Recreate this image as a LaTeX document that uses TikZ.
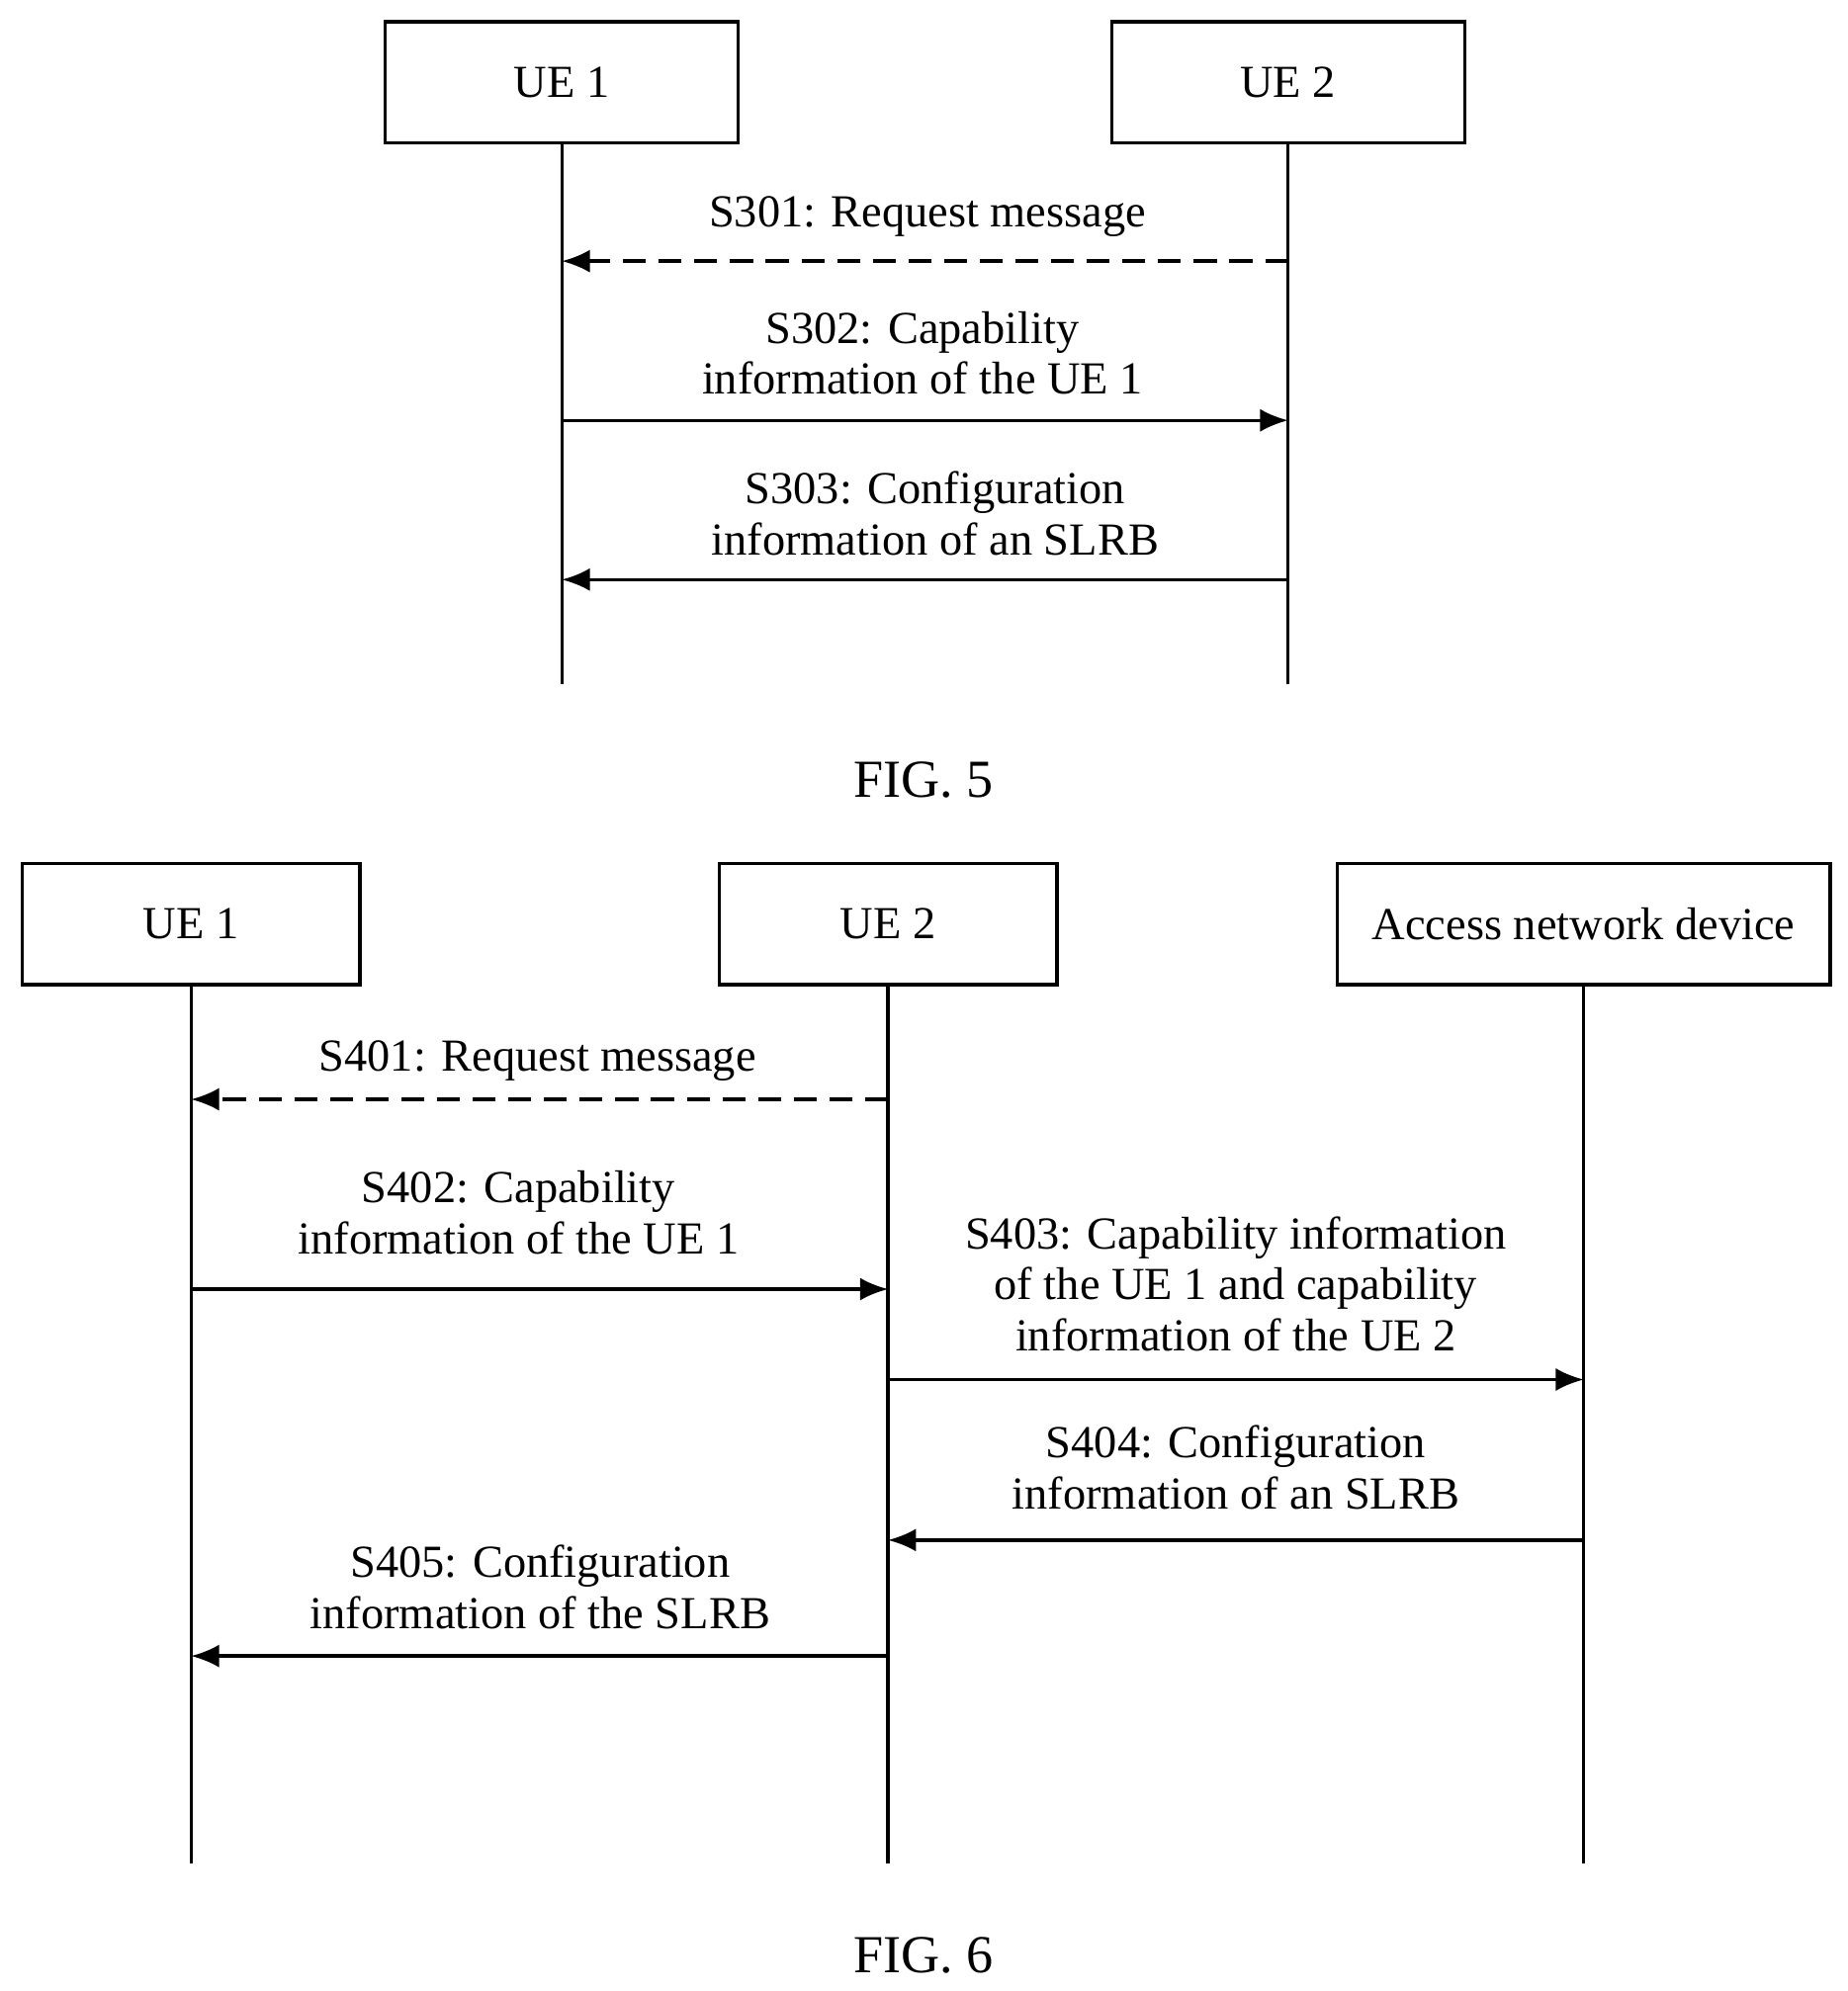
\documentclass[tikz,border=0pt]{standalone}
\usepackage{fontspec}
\setmainfont{Liberation Serif}
\usetikzlibrary{arrows.meta}
\begin{document}
\begin{tikzpicture}[x=0.5pt,y=-0.5pt,
  box/.style={draw,line width=1.3pt,minimum width=#1*0.5pt,minimum height=47.5pt,font=\fontsize{18}{20}\selectfont,inner sep=0pt},
  life/.style={line width=1.3pt},
  msg/.style={line width=1.3pt,-{Latex[length=11pt,width=9pt]}},
  dmsg/.style={msg,dash pattern=on 9pt off 5pt},
  lbl/.style={align=center,font=\fontsize{18}{20}\selectfont,inner sep=0pt},
  fig/.style={font=\fontsize{21}{24}\selectfont}]
\useasboundingbox (0,0) rectangle (1450,1563);
% FIG 5
\node[box=277] (a1) at (441,64.5) {UE 1};
\node[box=277] (a2) at (1011,64.5) {UE 2};
\coordinate (a1e) at (441,537); \coordinate (a2e) at (1011,537);
\draw[life] (a1) -- (a1e); \draw[life] (a2) -- (a2e);
\coordinate (p1a) at (1011,205); \coordinate (p1b) at (441,205);
\draw[dmsg] (p1a) -- (p1b);
\node[lbl] (l301) at (728,170) {S301: Request message};
\coordinate (p2a) at (441,330); \coordinate (p2b) at (1011,330);
\draw[msg] (p2a) -- (p2b);
\node[lbl] (l302) at (724,277) {S302: Capability\\information of the UE 1};
\coordinate (p3a) at (1011,455); \coordinate (p3b) at (441,455);
\draw[msg] (p3a) -- (p3b);
\node[lbl] (l303) at (734,403) {S303: Configuration\\information of an SLRB};
\node[fig] (f5) at (725,612) {FIG. 5};
% FIG 6
\node[box=265] (b1) at (150,725.5) {UE 1};
\node[box=265] (b2) at (697,725.5) {UE 2};
\node[box=387] (b3) at (1243,725.5) {Access network device};
\coordinate (b1e) at (150,1463); \coordinate (b2e) at (697,1463); \coordinate (b3e) at (1243,1463);
\draw[life] (b1) -- (b1e); \draw[life] (b2) -- (b2e); \draw[life] (b3) -- (b3e);
\coordinate (q1a) at (697,863); \coordinate (q1b) at (150,863);
\draw[dmsg] (q1a) -- (q1b);
\node[lbl] (l401) at (422,833) {S401: Request message};
\coordinate (q2a) at (150,1012); \coordinate (q2b) at (697,1012);
\draw[msg] (q2a) -- (q2b);
\node[lbl] (l402) at (407,952) {S402: Capability\\information of the UE 1};
\coordinate (q3a) at (697,1083); \coordinate (q3b) at (1243,1083);
\draw[msg] (q3a) -- (q3b);
\node[lbl] (l403) at (970,1008) {S403: Capability information\\of the UE 1 and capability\\information of the UE 2};
\coordinate (q4a) at (1243,1209); \coordinate (q4b) at (697,1209);
\draw[msg] (q4a) -- (q4b);
\node[lbl] (l404) at (970,1152) {S404: Configuration\\information of an SLRB};
\coordinate (q5a) at (697,1300); \coordinate (q5b) at (150,1300);
\draw[msg] (q5a) -- (q5b);
\node[lbl] (l405) at (424,1246) {S405: Configuration\\information of the SLRB};
\node[fig] (f6) at (725,1535) {FIG. 6};
\end{tikzpicture}
\end{document}
